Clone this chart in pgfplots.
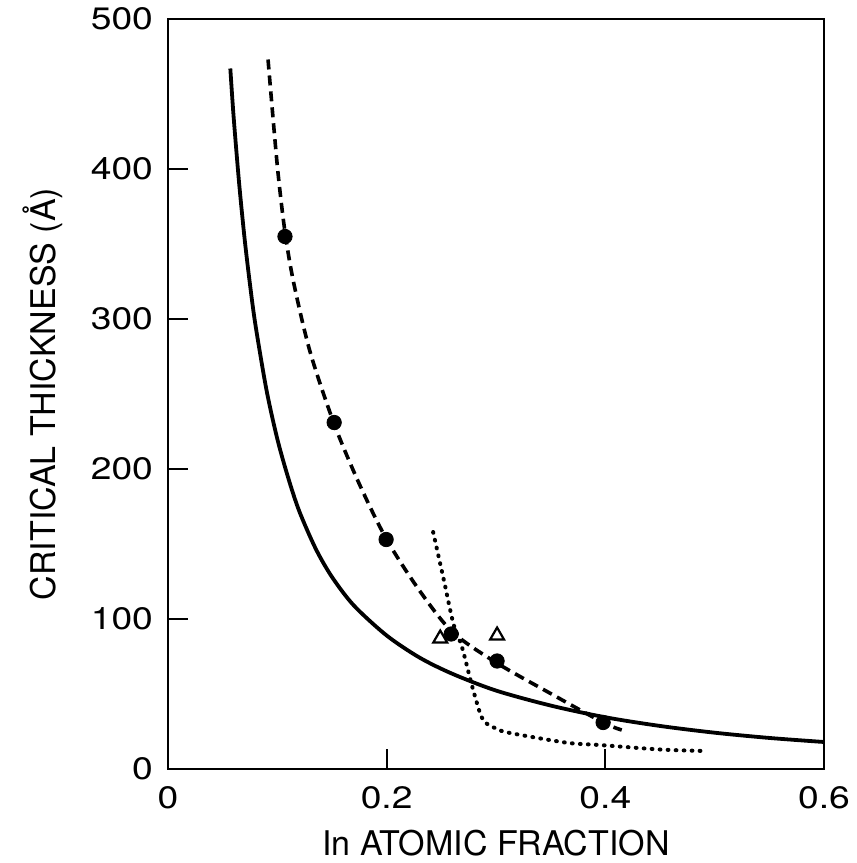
\documentclass[border=0pt]{standalone}
\usepackage{pgfplots}
\pgfplotsset{compat=1.18}
\usepackage{fontspec}
\setmainfont{TeX Gyre Heros}
\newfontfamily\tickfont{TeX Gyre Heros}[FakeStretch=1.2]
\begin{document}
\begin{tikzpicture}
\useasboundingbox (-84pt,-47pt) rectangle (344.5pt,384.5pt);
\begin{axis}[
  at={(0,0)}, anchor=south west,
  scale only axis,
  width=328pt, height=375pt,
  xmin=0, xmax=0.6, ymin=0, ymax=500,
  axis line style={line width=1.4pt},
  xtick={0,0.2,0.4,0.6}, xticklabels={0,0.2,0.4,0.6},
  ytick={0,100,200,300,400,500}, yticklabels={0,100,200,300,400,500},
  xtick pos=left, ytick pos=left,
  tick align=inside,
  major tick length=10pt,
  tick style={line width=1pt, black},
  /pgf/number format/assume math mode=true,
  tick label style={font=\tickfont\fontsize{15.5}{18}\selectfont},
  xticklabel style={yshift=-5pt},
  yticklabel style={xshift=-4pt},
  xlabel={In ATOMIC FRACTION},
  ylabel={CRITICAL THICKNESS (Å)},
  label style={font=\fontsize{17}{20}\selectfont},
  xlabel style={yshift=-4pt},
  ylabel style={yshift=7pt},
  clip=false,
]
% solid curve
\addplot[black, line width=1.9pt, smooth, tension=0.5] coordinates {
(0.057,467)(0.060,435)(0.065,391)(0.070,354)(0.075,323)(0.080,296)
(0.090,253)(0.100,220)(0.110,194)(0.120,172)(0.135,147)(0.150,128)
(0.170,109)(0.200,89)(0.230,74.3)(0.260,63.5)(0.300,52.3)(0.350,42.3)
(0.400,34.5)(0.450,28.7)(0.500,24.2)(0.550,20.7)(0.600,18)};
% dashed curve
\addplot[black, line width=1.8pt, dash pattern=on 5pt off 3pt, smooth, tension=0.5] coordinates {
(0.0915,473)(0.100,402)(0.107,358)(0.115,324)(0.130,278)(0.152,230)
(0.175,190)(0.200,153)(0.230,119)(0.260,91.5)(0.300,71)(0.350,50.3)
(0.398,31)(0.415,26)};
% dotted curve
\addplot[black, line width=2pt, line cap=round, dash pattern=on 0.4pt off 3.6pt, smooth, tension=0.5] coordinates {
(0.2425,158)(0.252,127)(0.261,97)(0.269,81)(0.279,53)(0.288,33)(0.3,27)
(0.313,24)(0.365,17.5)(0.395,16)(0.45,13)(0.491,12)};
% filled circles
\addplot[only marks, mark=*, mark size=3.6pt, black] coordinates {
(0.107,355)(0.152,231)(0.1995,153)(0.259,90)(0.301,72)(0.398,31)};
% open triangles
\addplot[only marks, mark=triangle, mark size=4pt, black, mark options={line width=1.1pt, fill=white}] coordinates {
(0.249,87)(0.301,89)};
\end{axis}
\end{tikzpicture}
\end{document}
